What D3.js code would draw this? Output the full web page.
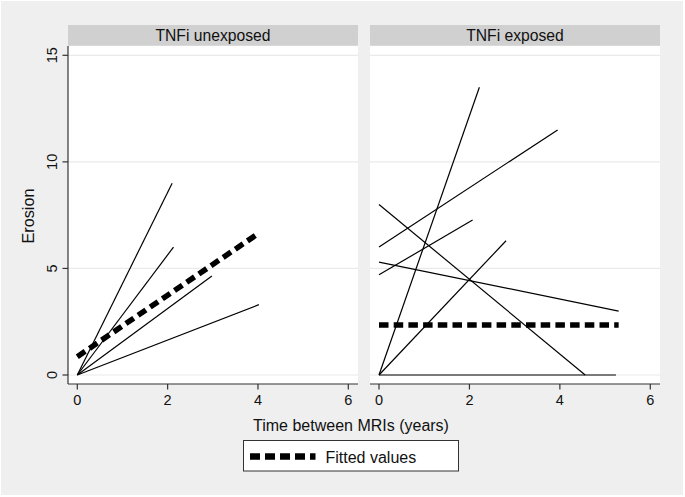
<!DOCTYPE html>
<html>
<head>
<meta charset="utf-8">
<script src="https://cdn.jsdelivr.net/npm/d3@7"></script>
<style>
html,body{margin:0;padding:0;background:#fff;}
svg{display:block;font-family:"Liberation Sans",Arial,Helvetica,sans-serif;}
</style>
</head>
<body>
<svg id="chart" width="685" height="497"></svg>
<script>
// ---- data ----
const panels = ["TNFi unexposed", "TNFi exposed"];
// unexposed subjects: start at time 0
const unexposedStartTime = [0, 0, 0, 0];
const unexposedStartErosion = [0, 0, 0, 0];
const unexposedEndTime = [2.1, 2.13, 2.98, 4.02];
const unexposedEndErosion = [9.0, 6.0, 4.65, 3.3];
// exposed subjects
const exposedStartTime = [0, 0, 0, 0, 0, 0, 0];
const exposedStartErosion = [0, 6.0, 8.0, 4.7, 5.3, 0, 0];
const exposedEndTime = [2.22, 3.95, 4.56, 2.07, 5.3, 2.81, 5.24];
const exposedEndErosion = [13.5, 11.5, 0, 7.27, 3.0, 6.3, 0];
// fitted values
const fittedUnexposedTime = [0, 3.98];
const fittedUnexposedValue = [0.86, 6.6];
const fittedExposedTime = [0, 5.3];
const fittedExposedValue = [2.35, 2.35];
const xTicks = [0, 2, 4, 6];
const yTicks = [0, 5, 10, 15];
const xTitle = "Time between MRIs (years)";
const yTitle = "Erosion";
const legendLabel = "Fitted values";

// ---- layout ----
const svg = d3.select("#chart");
const W = 685, H = 497;
svg.append("rect").attr("x",0).attr("y",0).attr("width",W).attr("height",H).attr("fill","#fff");
svg.append("rect").attr("x",1).attr("y",1).attr("width",W-3).attr("height",H-3).attr("fill","#efefef");

const plotTop = 46, plotBottom = 384;
const stripTop = 25;
const panelBoxes = [
  {x0: 68, x1: 358, range: [77.3, 348.3]},
  {x0: 370, x1: 660, range: [379, 650.3]}
];
const y = d3.scaleLinear().domain([0, 15]).range([375, 55.3]);

const segs = [
  unexposedEndTime.map((t, i) => [[unexposedStartTime[i], unexposedStartErosion[i]], [t, unexposedEndErosion[i]]]),
  exposedEndTime.map((t, i) => [[exposedStartTime[i], exposedStartErosion[i]], [t, exposedEndErosion[i]]])
];
const fits = [
  fittedUnexposedTime.map((t, i) => [t, fittedUnexposedValue[i]]),
  fittedExposedTime.map((t, i) => [t, fittedExposedValue[i]])
];

const dashArr = "9.5,5.2";
const dashW = 5.5;

panels.forEach((name, p) => {
  const b = panelBoxes[p];
  const x = d3.scaleLinear().domain([0, 6]).range(b.range);
  const g = svg.append("g");
  // plot area
  g.append("rect").attr("x", b.x0).attr("y", plotTop).attr("width", b.x1 - b.x0)
    .attr("height", plotBottom - plotTop).attr("fill", "#fff");
  // strip
  g.append("rect").attr("x", b.x0).attr("y", stripTop).attr("width", b.x1 - b.x0)
    .attr("height", plotTop - stripTop - 0.3).attr("fill", "#d0d0d0");
  g.append("text").attr("x", (b.x0 + b.x1) / 2).attr("y", 40.5).attr("text-anchor", "middle")
    .attr("font-size", "15.7px").attr("fill", "#111").text(name);
  // grid
  g.selectAll("line.grid").data(yTicks).join("line").attr("class", "grid")
    .attr("x1", b.x0).attr("x2", b.x1).attr("y1", d => y(d)).attr("y2", d => y(d))
    .attr("stroke", "#eaeaea").attr("stroke-width", 1.2);
  // subject lines
  const line = d3.line().x(d => x(d[0])).y(d => y(d[1]));
  g.selectAll("path.subj").data(segs[p]).join("path").attr("class", "subj")
    .attr("d", line).attr("fill", "none").attr("stroke", "#000").attr("stroke-width", 1.2);
  // fitted
  g.append("path").attr("d", line(fits[p])).attr("fill", "none").attr("stroke", "#000")
    .attr("stroke-width", dashW).attr("stroke-dasharray", dashArr);
  // x axis
  const xa = g.append("g").attr("transform", `translate(0,${plotBottom})`);
  xa.append("line").attr("x1", b.x0).attr("x2", b.x1).attr("y1", 0).attr("y2", 0)
    .attr("stroke", "#333").attr("stroke-width", 1.2);
  xa.selectAll("line.tk").data(xTicks).join("line").attr("class", "tk")
    .attr("x1", d => x(d)).attr("x2", d => x(d)).attr("y1", 0).attr("y2", 5.5)
    .attr("stroke", "#333").attr("stroke-width", 1.2);
  xa.selectAll("text").data(xTicks).join("text").attr("x", d => x(d)).attr("y", 21)
    .attr("text-anchor", "middle").attr("font-size", "14.5px").attr("fill", "#111").text(d => d);
  // y axis on left panel only
  if (p === 0) {
    const ya = g.append("g");
    ya.append("line").attr("x1", b.x0).attr("x2", b.x0).attr("y1", plotTop).attr("y2", plotBottom)
      .attr("stroke", "#333").attr("stroke-width", 1.2);
    ya.selectAll("line.tk").data(yTicks).join("line").attr("class", "tk")
      .attr("x1", b.x0 - 5.5).attr("x2", b.x0).attr("y1", d => y(d)).attr("y2", d => y(d))
      .attr("stroke", "#333").attr("stroke-width", 1.2);
    ya.selectAll("text").data(yTicks).join("text")
      .attr("transform", d => `translate(56.5,${y(d)}) rotate(-90)`)
      .attr("text-anchor", "middle").attr("font-size", "14.5px").attr("fill", "#111").text(d => d);
  }
});

// axis titles
svg.append("text").attr("x", 351).attr("y", 431).attr("text-anchor", "middle")
  .attr("font-size", "16px").attr("fill", "#111").text(xTitle);
svg.append("text").attr("transform", "translate(34,216) rotate(-90)").attr("text-anchor", "middle")
  .attr("font-size", "16.3px").attr("fill", "#111").text(yTitle);

// legend
svg.append("rect").attr("x", 243.5).attr("y", 440.5).attr("width", 215).attr("height", 30.5)
  .attr("fill", "#fff").attr("stroke", "#333").attr("stroke-width", 1);
svg.append("line").attr("x1", 250).attr("x2", 315.5).attr("y1", 456.5).attr("y2", 456.5)
  .attr("stroke", "#000").attr("stroke-width", 6.5).attr("stroke-dasharray", "10,5");
svg.append("text").attr("x", 325.5).attr("y", 462.5).attr("font-size", "16px").attr("fill", "#111")
  .text(legendLabel);
</script>
</body>
</html>
